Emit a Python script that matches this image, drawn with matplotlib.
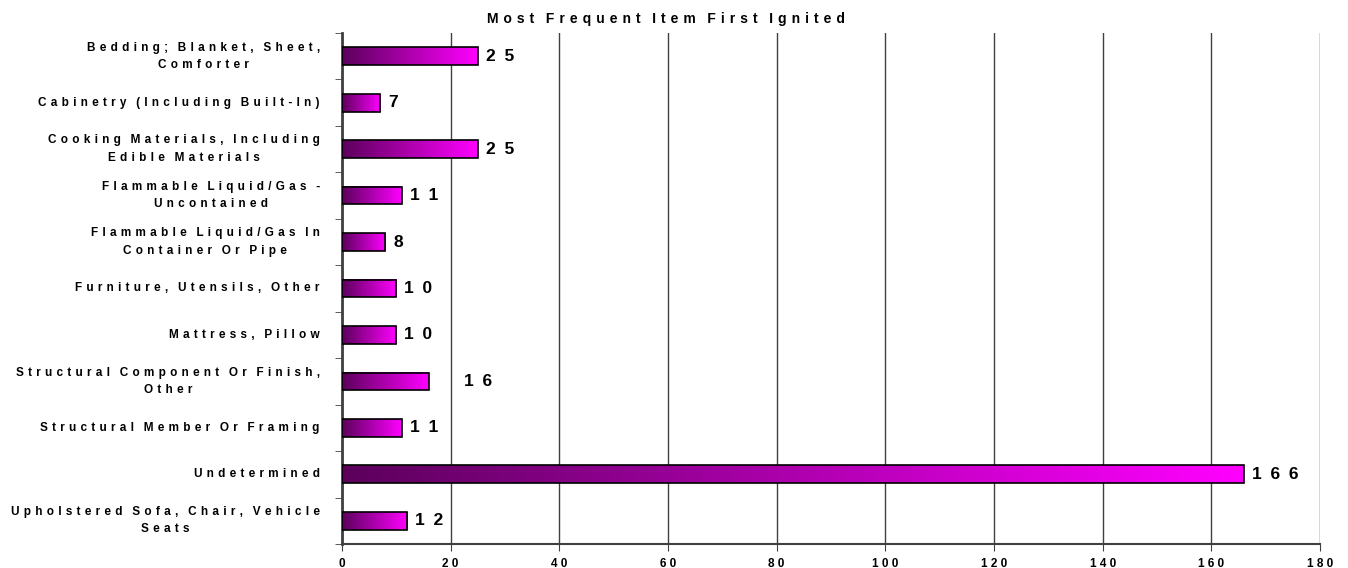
import matplotlib.pyplot as plt
import numpy as np
from matplotlib.colors import LinearSegmentedColormap

categories = [
    "Bedding; Blanket, Sheet,\nComforter",
    "Cabinetry (Including Built-In)",
    "Cooking Materials, Including\nEdible Materials",
    "Flammable Liquid/Gas -\nUncontained",
    "Flammable Liquid/Gas In\nContainer Or Pipe",
    "Furniture, Utensils, Other",
    "Mattress, Pillow",
    "Structural Component Or Finish,\nOther",
    "Structural Member Or Framing",
    "Undetermined",
    "Upholstered Sofa, Chair, Vehicle\nSeats",
]
values = [25, 7, 25, 11, 8, 10, 10, 16, 11, 166, 12]
xticks = [0, 20, 40, 60, 80, 100, 120, 140, 160, 180]
title = "Most Frequent Item First Ignited"

FONT = ["Liberation Sans", "DejaVu Sans"]
plt.rcParams["font.family"] = FONT


def spaced(s, gap=" \u200a", wgap="   "):
    # excel-style wide letter tracking
    lines = []
    for line in s.split("\n"):
        words = line.split(" ")
        lines.append(wgap.join(gap.join(w) for w in words))
    return "\n".join(lines)


fig = plt.figure(figsize=(13.48, 5.68), dpi=100)
ax = fig.add_axes([342 / 1348, 1 - 544 / 568, 978 / 1348, 511 / 568])

cmap = LinearSegmentedColormap.from_list("pm", ["#5c005c", "#ff00ff"])
grad = np.linspace(0, 1, 256).reshape(1, -1)
h = 0.38
ypos = np.arange(len(values))

for y, v in zip(ypos, values):
    ax.imshow(grad, cmap=cmap, extent=(0, v, y + h / 2, y - h / 2),
              aspect="auto", zorder=3, interpolation="bilinear")
ax.barh(ypos, values, height=h, facecolor="none", edgecolor="black",
        linewidth=1.2, zorder=4)

extra = {7: 5.0}
for i, (y, v) in enumerate(zip(ypos, values)):
    ax.text(v + 1.5 + extra.get(i, 0), y, spaced(str(v), "\u2002"),
            va="center", ha="left", fontsize=12.5, fontweight="bold", zorder=5)

ax.set_xlim(0, 180)
ax.set_ylim(len(values) - 0.5, -0.5)
ax.set_xticks(xticks)
ax.set_xticklabels([spaced(str(t), " ") for t in xticks], fontsize=8.5,
                   fontweight="bold")
ax.set_yticks(ypos)
ax.set_yticklabels([spaced(c) for c in categories], fontsize=8.5,
                   fontweight="bold", linespacing=1.6, ha="right", va="center",
                   multialignment="center")
ax.tick_params(axis="y", length=0, pad=16)
ax.set_yticks(np.arange(len(values) + 1) - 0.5, minor=True)
ax.tick_params(axis="y", which="minor", length=5, color="#404040")
ax.tick_params(axis="x", length=5, color="#404040", pad=5)

ax.grid(axis="x", color="#404040", linewidth=1, zorder=0)
ax.set_axisbelow(True)
for s in ["top", "right"]:
    ax.spines[s].set_visible(False)
ax.spines["left"].set_color("#404040")
ax.spines["left"].set_linewidth(2)
ax.spines["bottom"].set_color("#404040")
ax.spines["bottom"].set_linewidth(1.5)

fig.text(666 / 1348, 1 - 19 / 568, spaced(title), ha="center", va="center",
         fontsize=10, fontweight="bold")

plt.savefig("out.png", dpi=100)
